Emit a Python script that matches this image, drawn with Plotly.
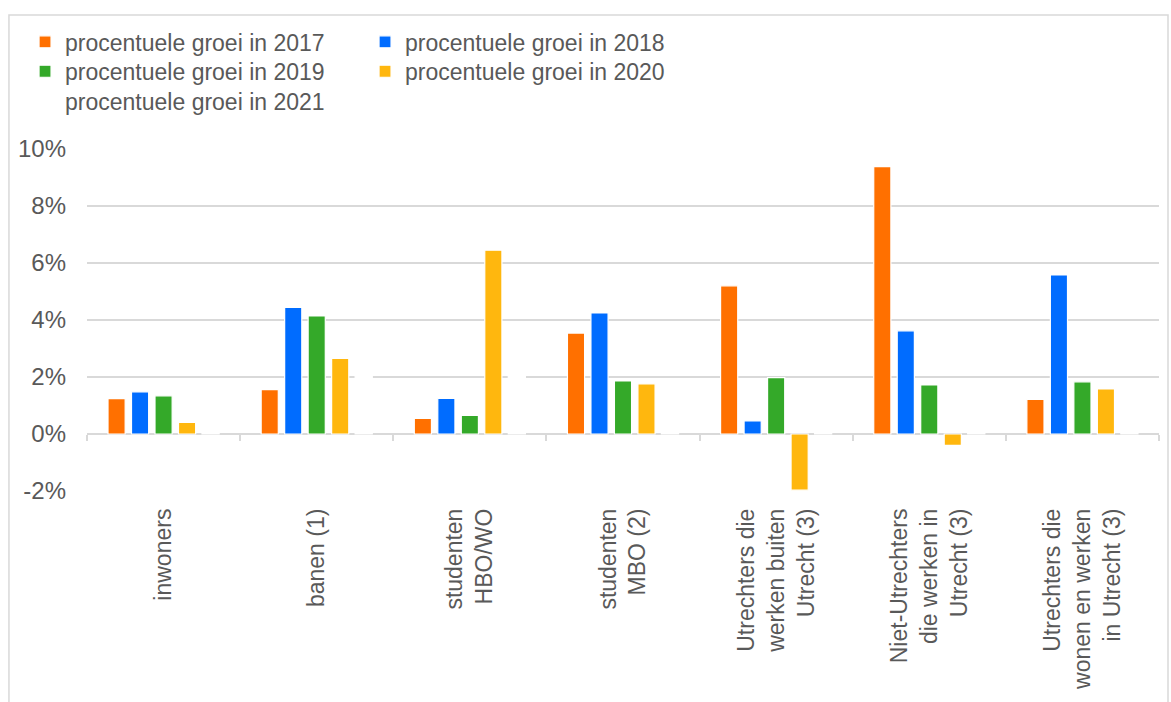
import plotly.graph_objects as go

categories = [
    "inwoners",
    "banen (1)",
    "studenten<br>HBO/WO",
    "studenten<br>MBO (2)",
    "Utrechters die<br>werken buiten<br>Utrecht (3)",
    "Niet-Utrechters<br>die werken in<br>Utrecht (3)",
    "Utrechters die<br>wonen en werken<br>in Utrecht (3)",
]
series_names = [
    "procentuele groei in 2017",
    "procentuele groei in 2018",
    "procentuele groei in 2019",
    "procentuele groei in 2020",
    "procentuele groei in 2021",
]
groei_2017 = [1.24, 1.56, 0.55, 3.54, 5.20, 9.38, 1.21]
groei_2018 = [1.48, 4.44, 1.25, 4.25, 0.46, 3.62, 5.58]
groei_2019 = [1.34, 4.14, 0.65, 1.86, 1.98, 1.72, 1.83]
groei_2020 = [0.41, 2.65, 6.45, 1.76, -1.97, -0.40, 1.58]
groei_2021 = [1.0, 2.6, 2.5, 1.0, 1.0, 1.0, 1.0]
y_ticks = [-2, 0, 2, 4, 6, 8, 10]
y_tick_labels = ["-2%", "0%", "2%", "4%", "6%", "8%", "10%"]

colors = ["#ff7000", "#006cff", "#34a929", "#ffb70e", "#ffffff"]
legends = ["legend", "legend", "legend2", "legend2", "legend3"]
values = [groei_2017, groei_2018, groei_2019, groei_2020, groei_2021]

FONT = "Liberation Sans, Arial, sans-serif"
GREY = "#595959"
GRID = "#d9d9d9"

fig = go.Figure()
for name, vals, col, lg in zip(series_names, values, colors, legends):
    fig.add_trace(go.Bar(
        x=categories, y=vals, name=name, legend=lg,
        marker=dict(color=col, line=dict(color="#ffffff", width=1.2)),
        hovertemplate="%{y:.2f}%<extra>" + name + "</extra>",
    ))

# helper axis to draw category tick marks along the zero line
fig.add_trace(go.Scatter(
    x=list(range(len(categories))), y=[None] * len(categories),
    xaxis="x2", yaxis="y", mode="markers", showlegend=False, hoverinfo="skip",
))

legend_common = dict(orientation="h", x=-0.0578, xanchor="left", yanchor="top",
                     entrywidth=295, font=dict(size=23, color=GREY, family=FONT),
                     bgcolor="rgba(0,0,0,0)")

fig.update_layout(
    width=1171, height=702,
    margin=dict(l=87, r=12, t=149, b=201),
    paper_bgcolor="white", plot_bgcolor="white",
    font=dict(family=FONT, color=GREY, size=23),
    barmode="group", bargap=0.233, bargroupgap=0.27,
    xaxis=dict(
        type="category", range=[-0.5, len(categories) - 0.5],
        tickangle=-90, showline=False, ticks="", showgrid=False,
        tickfont=dict(size=23, color=GREY, family=FONT),
        ticklabelstandoff=12,
    ),
    xaxis2=dict(
        overlaying="x", anchor="free", position=(0 - y_ticks[0]) / (y_ticks[-1] - y_ticks[0]),
        range=[-0.5, len(categories) - 0.5],
        tickmode="array", tickvals=[i - 0.5 for i in range(len(categories) + 1)],
        showticklabels=False, ticks="outside", ticklen=6, tickwidth=1.5, tickcolor=GRID,
        showline=False, showgrid=False, zeroline=False,
    ),
    yaxis=dict(
        range=[y_ticks[0], y_ticks[-1]], tickmode="array", tickvals=y_ticks,
        ticktext=y_tick_labels, showgrid=True, gridcolor=GRID, gridwidth=1.5,
        zeroline=True, zerolinecolor=GRID, zerolinewidth=1.5,
        showline=False, ticks="", ticklabelstandoff=20,
        tickfont=dict(size=24, color=GREY, family=FONT),
    ),
    legend=dict(legend_common, y=1.376),
    legend2=dict(legend_common, y=1.290),
    legend3=dict(legend_common, y=1.204),
    shapes=[dict(type="rect", xref="paper", yref="paper",
                 x0=-0.0728, x1=1.0084, y0=-0.62, y1=1.3915,
                 line=dict(color=GRID, width=1.5), layer="below")],
)

fig.write_html("out.html")
